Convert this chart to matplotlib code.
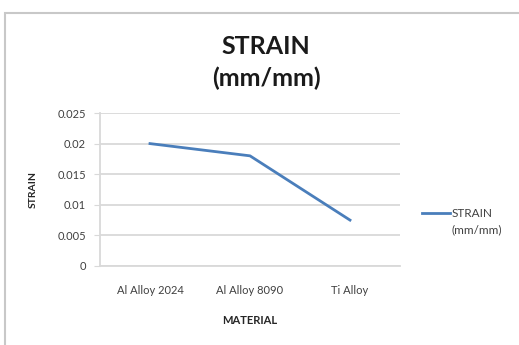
import matplotlib
matplotlib.use("Agg")
import matplotlib.pyplot as plt
from matplotlib.patches import Rectangle

materials = ["Al Alloy 2024", "Al Alloy 8090", "Ti Alloy"]
strain = [0.020, 0.018, 0.0075]
y_ticks = [0, 0.005, 0.01, 0.015, 0.02, 0.025]
y_tick_labels = ["0", "0.005", "0.01", "0.015", "0.02", "0.025"]

plt.rcParams["font.family"] = ["Lato", "DejaVu Sans"]

fig = plt.figure(figsize=(5.19, 3.45), dpi=100)
fig.patch.set_facecolor("white")

# chart frame
fig.patches.append(Rectangle((5 / 519, -0.1), 1.2, 1.1 - 13 / 345,
                             transform=fig.transFigure, fill=False,
                             edgecolor="#c8c8c8", linewidth=1.5))

ax = fig.add_axes([100 / 519, 1 - 266 / 345, 300 / 519, 153 / 345])
x = list(range(len(materials)))
ax.plot(x, strain, color="#4a7ebb", linewidth=2.0, label="STRAIN\n(mm/mm)")

ax.set_xlim(-0.5, len(materials) - 0.5)
ax.set_ylim(0, 0.025)
ax.set_yticks(y_ticks)
ax.set_yticklabels(y_tick_labels)
ax.set_xticks(x)
ax.set_xticklabels(materials)
ax.grid(axis="y", color="#d9d9d9", linewidth=1.3)
ax.set_axisbelow(True)
for s in ["top", "right"]:
    ax.spines[s].set_visible(False)
for s in ["left", "bottom"]:
    ax.spines[s].set_color("#d9d9d9")
    ax.spines[s].set_linewidth(1.3)
ax.tick_params(axis="y", length=4, color="#d9d9d9", labelsize=8, labelcolor="#404040", pad=6)
ax.tick_params(axis="x", length=0, labelsize=8, labelcolor="#404040", pad=13.5)

ax.set_xlabel("MATERIAL", fontsize=8, fontweight="bold", color="#262626", labelpad=14)
ax.set_ylabel("STRAIN", fontsize=7.5, fontweight="bold", color="#262626", labelpad=14)

fig.text(266 / 519, 1 - 46 / 345, "STRAIN", ha="center", va="center",
         fontsize=18, fontweight="bold", color="#1a1a1a")
fig.text(266 / 519, 1 - 78 / 345, "(mm/mm)", ha="center", va="center",
         fontsize=18, fontweight="bold", color="#1a1a1a")

leg = fig.legend(loc="center left", bbox_to_anchor=(411 / 519, 1 - 222 / 345),
                 frameon=False, fontsize=8.5, handlelength=2.4, handletextpad=0.15,
                 labelcolor="#404040")
for t in leg.get_texts():
    t.set_linespacing(1.6)
# put the legend line beside the first text line
for h in leg.legend_handles:
    h.set_ydata([y + 7.0 for y in h.get_ydata()])

fig.savefig("out.png", dpi=100)
